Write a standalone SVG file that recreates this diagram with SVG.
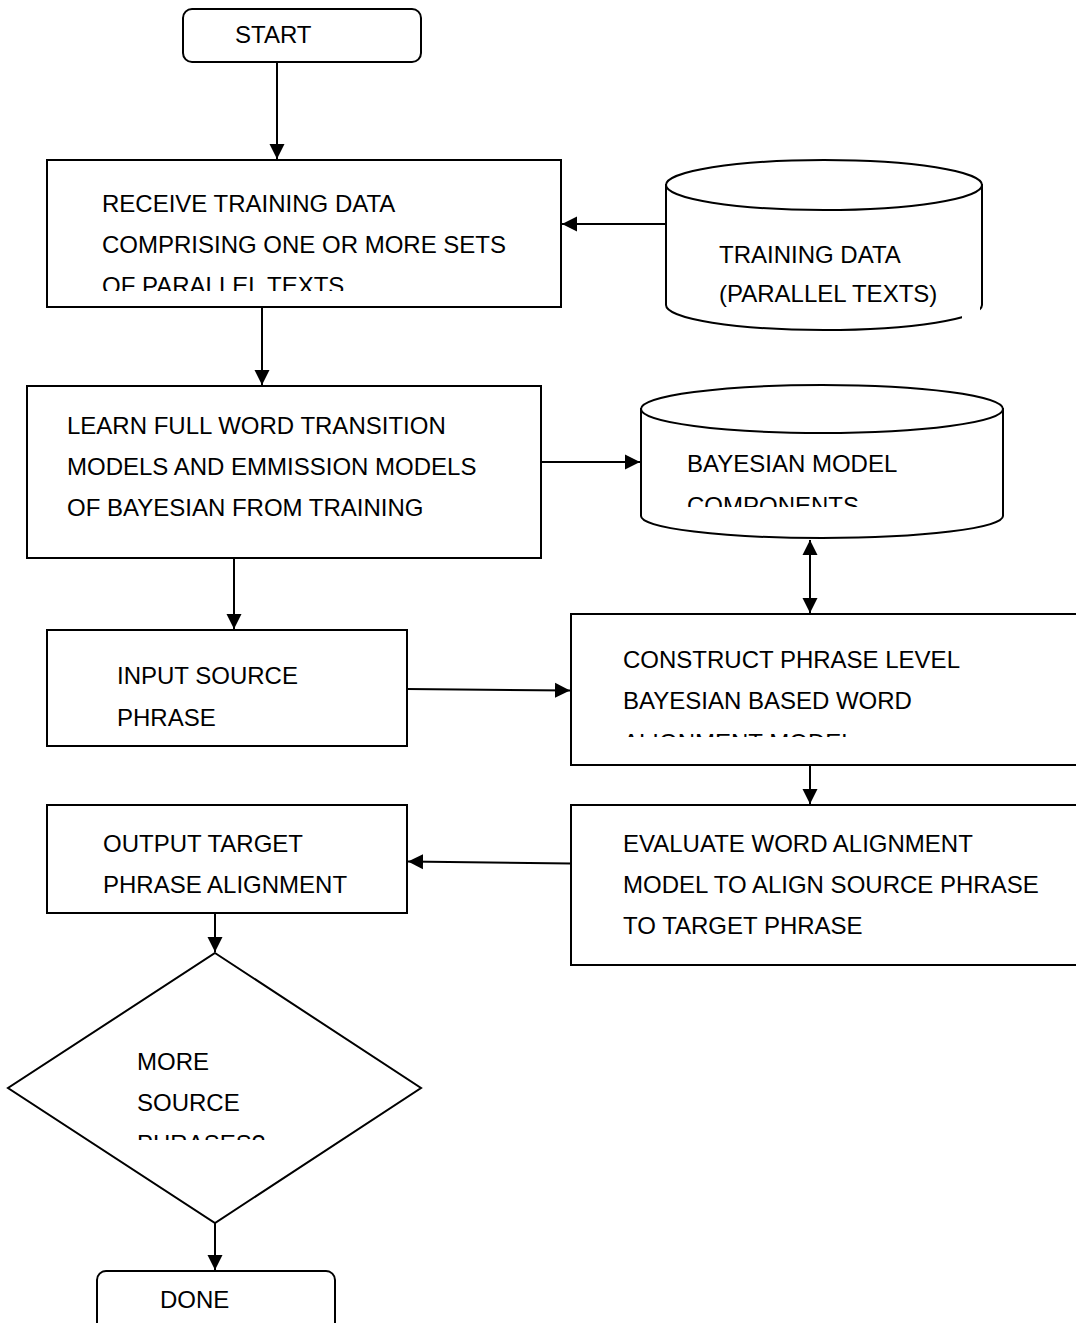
<svg xmlns="http://www.w3.org/2000/svg" width="1076" height="1323" viewBox="0 0 1076 1323">
<style>
.shape{fill:#fff;stroke:#000;stroke-width:2}
.cyl{fill:#fff;stroke:#000;stroke-width:2}
.t{font-family:"Liberation Sans",Arial,sans-serif;font-size:24px;fill:#000}
.conn{stroke:#000;stroke-width:2;fill:none}
</style>
<defs>
<marker id="ah" markerUnits="userSpaceOnUse" markerWidth="17" markerHeight="17" refX="15" refY="7.5" orient="auto-start-reverse" viewBox="0 0 17 15">
<path d="M0,0 L15,7.5 L0,15 z" fill="#000"/>
</marker>
<clipPath id="c1"><rect x="0" y="150" width="1076" height="141"/></clipPath>
<clipPath id="c2"><rect x="0" y="430" width="1076" height="77"/></clipPath>
<clipPath id="c3"><rect x="0" y="640" width="1076" height="97"/></clipPath>
<clipPath id="c4"><rect x="0" y="1040" width="1076" height="100"/></clipPath>
</defs>
<rect width="1076" height="1323" fill="#fff"/>

<g id="connectors">
<line class="conn" x1="277" y1="62" x2="277" y2="159" marker-end="url(#ah)"/>
<line class="conn" x1="666" y1="224" x2="562" y2="224" marker-end="url(#ah)"/>
<line class="conn" x1="262" y1="307" x2="262" y2="385" marker-end="url(#ah)"/>
<line class="conn" x1="541" y1="462" x2="640" y2="462" marker-end="url(#ah)"/>
<line class="conn" x1="234" y1="558" x2="234" y2="629" marker-end="url(#ah)"/>
<line class="conn" x1="810" y1="540" x2="810" y2="613" marker-start="url(#ah)" marker-end="url(#ah)"/>
<line class="conn" x1="407" y1="689" x2="570" y2="690.5" marker-end="url(#ah)"/>
<line class="conn" x1="810" y1="765" x2="810" y2="804" marker-end="url(#ah)"/>
<line class="conn" x1="571" y1="863.5" x2="408" y2="861.5" marker-end="url(#ah)"/>
<line class="conn" x1="215" y1="913" x2="215" y2="952" marker-end="url(#ah)"/>
<line class="conn" x1="215" y1="1223" x2="215" y2="1270" marker-end="url(#ah)"/>
</g>

<g id="start">
<rect class="shape" x="183" y="9" width="238" height="53" rx="9"/>
<text class="t" x="235" y="43">START</text>
</g>

<g id="receive">
<rect class="shape" x="47" y="160" width="514" height="147"/>
<g clip-path="url(#c1)">
<text class="t" x="102" y="212">RECEIVE TRAINING DATA</text>
<text class="t" x="102" y="253">COMPRISING ONE OR MORE SETS</text>
<text class="t" x="102" y="294">OF PARALLEL TEXTS</text>
</g>
</g>

<g id="training-data">
<path class="cyl" d="M666,185 L666,305 A158,25 0 0 0 982,305 L982,185 Z"/>
<ellipse class="cyl" cx="824" cy="185" rx="158" ry="25"/>
<rect x="962" y="307" width="18" height="14" fill="#fff"/>
<text class="t" x="719" y="263">TRAINING DATA</text>
<text class="t" x="719" y="302">(PARALLEL TEXTS)</text>
</g>

<g id="learn">
<rect class="shape" x="27" y="386" width="514" height="172"/>
<text class="t" x="67" y="434">LEARN FULL WORD TRANSITION</text>
<text class="t" x="67" y="475">MODELS AND EMMISSION MODELS</text>
<text class="t" x="67" y="516">OF BAYESIAN FROM TRAINING</text>
</g>

<g id="bayesian-components">
<path class="cyl" d="M641,409 L641,516 A181,22 0 0 0 1003,516 L1003,409 Z"/>
<ellipse class="cyl" cx="822" cy="409" rx="181" ry="24"/>
<g clip-path="url(#c2)">
<text class="t" x="687" y="472">BAYESIAN MODEL</text>
<text class="t" x="687" y="514">COMPONENTS</text>
</g>
</g>

<g id="input-source">
<rect class="shape" x="47" y="630" width="360" height="116"/>
<text class="t" x="117" y="684">INPUT SOURCE</text>
<text class="t" x="117" y="726">PHRASE</text>
</g>

<g id="construct">
<rect class="shape" x="571" y="614" width="510" height="151"/>
<g clip-path="url(#c3)">
<text class="t" x="623" y="668">CONSTRUCT PHRASE LEVEL</text>
<text class="t" x="623" y="709">BAYESIAN BASED WORD</text>
<text class="t" x="623" y="751">ALIGNMENT MODEL</text>
</g>
</g>

<g id="evaluate">
<rect class="shape" x="571" y="805" width="510" height="160"/>
<text class="t" x="623" y="852">EVALUATE WORD ALIGNMENT</text>
<text class="t" x="623" y="893">MODEL TO ALIGN SOURCE PHRASE</text>
<text class="t" x="623" y="934">TO TARGET PHRASE</text>
</g>

<g id="output-target">
<rect class="shape" x="47" y="805" width="360" height="108"/>
<text class="t" x="103" y="852">OUTPUT TARGET</text>
<text class="t" x="103" y="893">PHRASE ALIGNMENT</text>
</g>

<g id="more-source">
<polygon class="shape" points="215,953 421,1088 215,1223 8,1088"/>
<g clip-path="url(#c4)">
<text class="t" x="137" y="1070">MORE</text>
<text class="t" x="137" y="1111">SOURCE</text>
<text class="t" x="137" y="1152">PHRASES?</text>
</g>
</g>

<g id="done">
<rect class="shape" x="97" y="1271" width="238" height="70" rx="9"/>
<text class="t" x="160" y="1308">DONE</text>
</g>
</svg>
